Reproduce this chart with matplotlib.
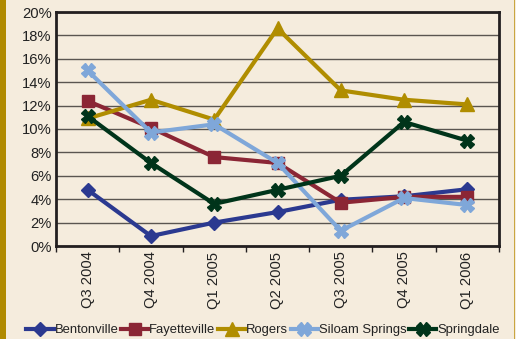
import matplotlib
matplotlib.use("Agg")
import matplotlib.pyplot as plt
from matplotlib.ticker import FuncFormatter, FixedLocator
from matplotlib.patches import Rectangle

plt.rcParams['font.family'] = ['Liberation Sans', 'DejaVu Sans']

quarters = ["Q3 2004", "Q4 2004", "Q1 2005", "Q2 2005", "Q3 2005", "Q4 2005", "Q1 2006"]
bentonville = [4.8, 0.85, 2.0, 2.9, 3.95, 4.25, 4.85]
fayetteville = [12.4, 10.1, 7.6, 7.1, 3.7, 4.2, 4.2]
rogers = [10.9, 12.5, 10.8, 18.6, 13.3, 12.5, 12.1]
siloam = [15.0, 9.7, 10.4, 7.1, 1.3, 4.1, 3.5]
springdale = [11.1, 7.1, 3.6, 4.8, 6.0, 10.6, 9.0]

series = [
    ("Bentonville", bentonville, "#2B3990", "D", 7),
    ("Fayetteville", fayetteville, "#8B2635", "s", 8),
    ("Rogers", rogers, "#B08D00", "^", 10),
    ("Siloam Springs", siloam, "#7FA7D9", "X", 10),
    ("Springdale", springdale, "#00341A", "X", 10),
]

bg = "#F5ECDD"
fig = plt.figure(figsize=(5.16, 3.39), dpi=100, facecolor=bg)
fig.patches.append(Rectangle((0, 0), 5.5/516, 1, transform=fig.transFigure,
                             facecolor="#B08A00", edgecolor="none"))
fig.patches.append(Rectangle((513.5/516, 0), 1.2/516, 1, transform=fig.transFigure,
                             facecolor="#C9A640", edgecolor="none"))

ax = fig.add_axes([56/516, 93/339, 443/516, 234/339])
ax.set_facecolor(bg)

x = list(range(len(quarters)))
for name, vals, col, mk, ms in series:
    ax.plot(x, vals, color=col, lw=3.0, marker=mk, markersize=ms,
            markeredgecolor=col, markerfacecolor=col, label=name, zorder=3)

ax.set_xlim(-0.5, len(quarters) - 0.5)
ax.set_ylim(0, 20)
ax.set_yticks(range(0, 21, 2))
ax.yaxis.set_major_formatter(FuncFormatter(lambda v, p: f"{int(v)}%"))
ax.grid(axis='y', color="#5a5550", lw=1.0, zorder=1)
ax.set_axisbelow(True)

ax.set_xticks(x)
ax.set_xticklabels(quarters, rotation=90, fontsize=10.6, color="#222222")
ax.tick_params(axis='x', which='major', length=0, pad=4)
ax.xaxis.set_minor_locator(FixedLocator([i + 0.5 for i in range(-1, len(quarters))]))
ax.tick_params(axis='x', which='minor', length=4, width=1, color="#231F20", direction='out')
ax.tick_params(axis='y', length=0, pad=3, labelsize=10.6, labelcolor="#222222")

for s in ax.spines.values():
    s.set_color("#231F20")
    s.set_linewidth(2.0)

leg = fig.legend(loc='center', bbox_to_anchor=(263/516, 9/339), ncol=5,
                 frameon=False, fontsize=9.4, handlelength=2.1, handletextpad=0.05,
                 columnspacing=0.2, borderaxespad=0, borderpad=0)
for t in leg.get_texts():
    t.set_color("#222222")

fig.savefig("out.png", dpi=100, facecolor=bg)
